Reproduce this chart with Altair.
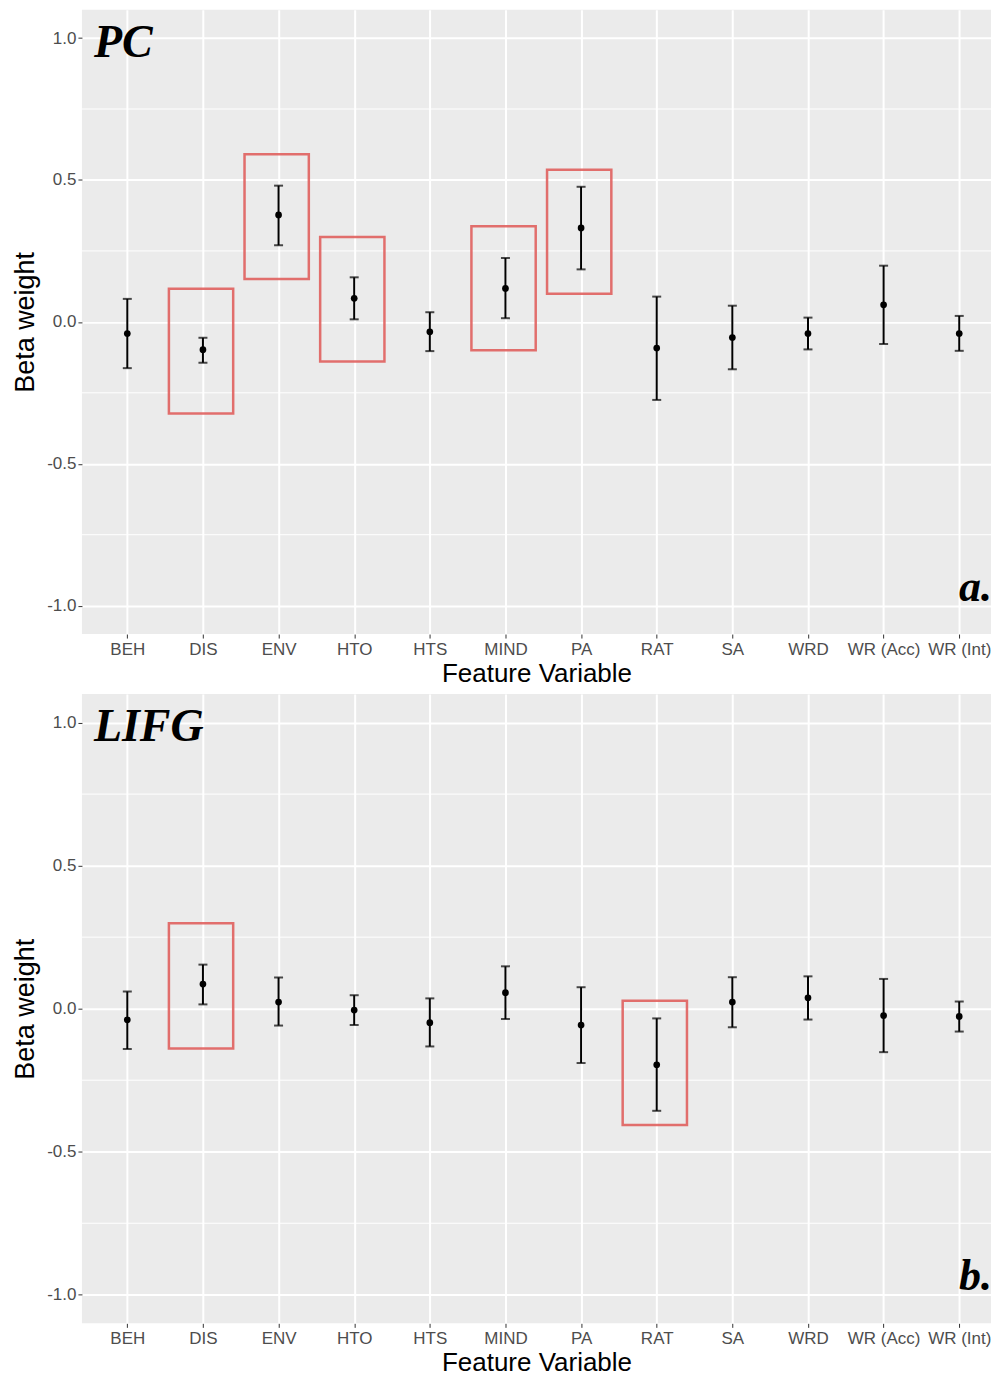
import altair as alt
import pandas as pd

categories = ["BEH", "DIS", "ENV", "HTO", "HTS", "MIND", "PA", "RAT", "SA", "WRD", "WR (Acc)", "WR (Int)"]

pc_beta = [-0.041, -0.098, 0.377, 0.083, -0.035, 0.118, 0.331, -0.092, -0.055, -0.041, 0.060, -0.041]
pc_upper = [0.081, -0.056, 0.480, 0.157, 0.034, 0.225, 0.476, 0.089, 0.057, 0.015, 0.198, 0.021]
pc_lower = [-0.163, -0.144, 0.270, 0.009, -0.103, 0.013, 0.185, -0.275, -0.167, -0.097, -0.078, -0.102]

lifg_beta = [-0.039, 0.086, 0.023, -0.005, -0.049, 0.056, -0.057, -0.196, 0.023, 0.038, -0.024, -0.027]
lifg_upper = [0.060, 0.154, 0.109, 0.047, 0.036, 0.148, 0.075, -0.034, 0.110, 0.113, 0.104, 0.025]
lifg_lower = [-0.141, 0.015, -0.059, -0.057, -0.132, -0.036, -0.190, -0.357, -0.065, -0.038, -0.152, -0.080]

pc_boxes = ["DIS", "ENV", "HTO", "MIND", "PA"]
pc_box_top = [0.117, 0.591, 0.299, 0.337, 0.536]
pc_box_bottom = [-0.323, 0.151, -0.140, -0.100, 0.099]

lifg_boxes = ["DIS", "RAT"]
lifg_box_top = [0.299, 0.028]
lifg_box_bottom = [-0.139, -0.407]

minor_breaks = [-0.75, -0.25, 0.25, 0.75]
major_breaks = [-1.0, -0.5, 0.0, 0.5, 1.0]

X_MIN, X_MAX = 0.4, 12.42
Y_MIN, Y_MAX = -1.1, 1.1
SANS = "Liberation Sans"
SERIF = "Liberation Serif"

label_array = "[" + ",".join("'" + c + "'" for c in categories) + "]"


def panel(name, letter, beta, upper, lower, boxes, btop, bbot, height):
    df = pd.DataFrame({
        "idx": list(range(1, len(categories) + 1)),
        "cat": categories,
        "beta": beta,
        "upper": upper,
        "lower": lower,
    })
    bx = pd.DataFrame({"cat": boxes, "top": btop, "bottom": bbot})
    bx["x0"] = [categories.index(c) + 1 - 0.45 for c in boxes]
    bx["x1"] = [categories.index(c) + 1 + 0.40 for c in boxes]

    xscale = alt.Scale(domain=[X_MIN, X_MAX], nice=False, zero=False)
    yscale = alt.Scale(domain=[Y_MIN, Y_MAX], nice=False, zero=False)
    xaxis = alt.Axis(
        values=list(range(1, len(categories) + 1)),
        labelExpr=label_array + "[datum.value - 1]",
        title="Feature Variable", titleFontSize=26,
        grid=True, gridColor="white", gridWidth=2,
        labelOverlap=False, labelFlush=False, labelBound=False,
        tickSize=4, labelPadding=3, titlePadding=3,
    )
    yaxis = alt.Axis(
        values=major_breaks,
        labelExpr="replace(format(datum.value, '.1f'), '\u2212', '-')",
        title="Beta weight", titleFontSize=27,
        grid=True, gridColor="white", gridWidth=2,
        tickSize=4, labelPadding=2, titlePadding=7,
    )

    minor = alt.Chart(pd.DataFrame({"y": minor_breaks})).mark_rule(
        color="white", strokeWidth=1
    ).encode(y=alt.Y("y:Q", scale=yscale, axis=yaxis))

    base = alt.Chart(df)
    X = alt.X("idx:Q", scale=xscale, axis=xaxis)
    stems = base.mark_rule(color="black", strokeWidth=2).encode(
        x=X, y=alt.Y("lower:Q", scale=yscale, axis=yaxis), y2="upper:Q"
    )
    cap_hi = base.mark_tick(color="black", orient="horizontal", size=9, thickness=2).encode(
        x=X, y=alt.Y("upper:Q", scale=yscale, axis=yaxis)
    )
    cap_lo = base.mark_tick(color="black", orient="horizontal", size=9, thickness=2).encode(
        x=X, y=alt.Y("lower:Q", scale=yscale, axis=yaxis)
    )
    pts = base.mark_circle(color="black", opacity=1, size=45).encode(
        x=X, y=alt.Y("beta:Q", scale=yscale, axis=yaxis)
    )
    rects = alt.Chart(bx).mark_rect(
        fillOpacity=0, stroke="#E0605E", strokeWidth=2.5, strokeOpacity=0.9
    ).encode(
        x=alt.X("x0:Q", scale=xscale, axis=xaxis), x2="x1:Q",
        y=alt.Y("bottom:Q", scale=yscale, axis=yaxis), y2="top:Q",
    )
    title_txt = alt.Chart(pd.DataFrame({"t": [name]})).mark_text(
        font=SERIF, fontStyle="italic", fontWeight="bold", fontSize=46,
        align="left", baseline="alphabetic", dx=12, dy=47, color="black",
    ).encode(x=alt.datum(X_MIN, scale=xscale), y=alt.datum(Y_MAX, scale=yscale), text="t:N")
    letter_txt = alt.Chart(pd.DataFrame({"t": [letter]})).mark_text(
        font=SERIF, fontStyle="italic", fontWeight="bold", fontSize=44,
        align="right", baseline="alphabetic", dx=1, dy=-33, color="black",
    ).encode(x=alt.datum(X_MAX, scale=xscale), y=alt.datum(Y_MIN, scale=yscale), text="t:N")

    return alt.layer(minor, rects, stems, cap_hi, cap_lo, pts, title_txt, letter_txt).properties(
        width=910, height=height
    )


top = panel("PC", "a.", pc_beta, pc_upper, pc_lower, pc_boxes, pc_box_top, pc_box_bottom, 625)
bottom = panel("LIFG", "b.", lifg_beta, lifg_upper, lifg_lower, lifg_boxes, lifg_box_top, lifg_box_bottom, 630)

chart = alt.vconcat(top, bottom, spacing=8).properties(
    padding={"left": 3, "top": 1, "right": 0, "bottom": 0}
).configure_view(
    fill="#EBEBEB", strokeWidth=0
).configure_axis(
    domain=False,
    labelFont=SANS, labelFontSize=17, labelColor="#4D4D4D",
    tickColor="#333333",
    titleFont=SANS, titleFontWeight="normal", titleColor="black",
)

chart.save("out.html", embed_options={"renderer": "svg", "actions": False})
